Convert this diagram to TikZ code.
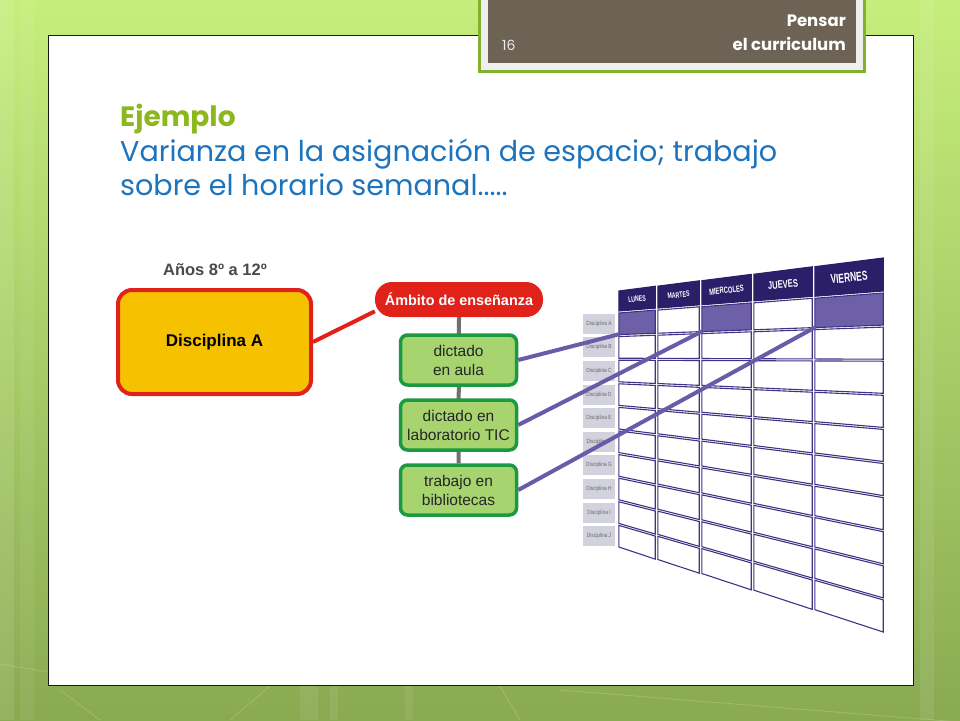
\documentclass[tikz,border=0pt]{standalone}
\usepackage{graphicx}
\usepackage{fontspec}
\setmainfont{Liberation Sans}
\newfontfamily\titlefont{Poppins}
\pgfdeclarelayer{bg}
\pgfdeclarelayer{lines}
\pgfsetlayers{bg,lines,main}
\definecolor{bgtop}{HTML}{C6EE7C}
\definecolor{bgmid}{HTML}{A6CE62}
\definecolor{bgbot}{HTML}{8AAA52}
\definecolor{hdrgreen}{HTML}{84B030}
\definecolor{hdrlight}{HTML}{EFEFEF}
\definecolor{hdrbrown}{HTML}{6D6354}
\definecolor{ejgreen}{HTML}{8CB81D}
\definecolor{tblue}{HTML}{1C74BE}
\definecolor{anosgray}{HTML}{4A4A4A}
\definecolor{yfill}{HTML}{F6C200}
\definecolor{rborder}{HTML}{E0221B}
\definecolor{gfill}{HTML}{A8D470}
\definecolor{gborder}{HTML}{1C9A42}
\definecolor{greyln}{HTML}{6F6F6F}
\definecolor{purpleln}{HTML}{6A5BA8}
\definecolor{navy}{HTML}{2C1F6A}
\definecolor{cellline}{HTML}{3F3483}
\definecolor{shaded}{HTML}{6D60A9}
\definecolor{labfill}{HTML}{D2D2DE}
\definecolor{labtext}{HTML}{666666}
\newcommand\gridrowy[3]{%
  \pgfmathsetmacro\grL{((#2)==0)*290+((#2)>0)*(312+23.6*((#2)-1))}%
  \pgfmathsetmacro\grR{((#2)==0)*257+((#2)>0)*(292+34.1*((#2)-1))}%
  \pgfmathsetmacro#1{\grL+((#3)-618)/266*(\grR-\grL)}%
}
\begin{document}
\begin{tikzpicture}[x=1pt,y=-1pt,
  hdrtxt/.style={text=white,font=\titlefont\bfseries\fontsize{16.5}{19}\selectfont,inner sep=0},
  ybox/.style={draw=rborder,line width=4,fill=yfill,rounded corners=14,minimum width=193,minimum height=104,inner sep=0,font=\bfseries\fontsize{17}{20}\selectfont},
  pill/.style={fill=rborder,rounded corners=17,minimum width=168,minimum height=35,inner sep=0,text=white,font=\bfseries\fontsize{14.4}{17}\selectfont},
  gbox/.style={draw=gborder,line width=3.5,fill=gfill,rounded corners=7,minimum width=116,minimum height=50,inner sep=0,align=center,font=\fontsize{15.5}{19}\selectfont,text=black!85},
  greyline/.style={draw=greyln,line width=4},
  redline/.style={draw=rborder,line width=4},
  purpleline/.style={draw=purpleln,line width=4},
  cellwhite/.style={draw=cellline,line width=1.1,fill=white},
  cellhead/.style={draw=navy,line width=1.1,fill=navy},
  cellshade/.style={draw=cellline,line width=1.1,fill=shaded},
  hdrlab/.style={text=white,inner sep=0,rotate=5.7,font=\bfseries},
  rowlab/.style={fill=labfill,minimum width=32,minimum height=20,inner sep=0,text=labtext,font=\fontsize{6}{7}\selectfont}
]
\useasboundingbox (0,0) rectangle (960,720);
\begin{pgfonlayer}{bg}
  \shade[top color=bgtop,middle color=bgmid,bottom color=bgbot] (0,0) rectangle (960,720);
  \fill[white,opacity=0.10] (0,0) rectangle (14,720);
  \fill[white,opacity=0.06] (20,0) rectangle (34,720);
  \fill[white,opacity=0.08] (920,0) rectangle (934,720);
  \fill[white,opacity=0.07] (300,685) rectangle (318,720);
  \fill[white,opacity=0.07] (330,685) rectangle (338,720);
  \fill[white,opacity=0.07] (405,685) rectangle (413,720);
  \draw[white,opacity=0.18,line width=0.8] (0,664) -- (48,672);
  \draw[white,opacity=0.18,line width=0.8] (560,690) -- (960,722);
  \draw[white,opacity=0.18,line width=0.8] (60,690) -- (100,720);
  \draw[white,opacity=0.18,line width=0.8] (230,720) -- (270,686);
  \draw[white,opacity=0.18,line width=0.8] (500,686) -- (520,720);
  \draw[black!90,line width=1,fill=white] (48,35) rectangle (913,685);
  \draw[draw=hdrgreen,line width=2.5,fill=hdrlight] (479.5,-5) rectangle (864.5,71.5);
  \fill[hdrbrown] (488,-5) rectangle (856,63);
\end{pgfonlayer}
% header texts
\node[hdrtxt,anchor=base east] (pensar) at (846,26) {Pensar};
\node[hdrtxt,anchor=base east] (curric) at (846,50) {el curriculum};
\node[anchor=base west,inner sep=0,text=white!92!black,font=\titlefont\fontsize{14}{16}\selectfont] (pnum) at (502,50) {16};
% title
\node[anchor=base west,inner sep=0,text=ejgreen,font=\titlefont\bfseries\fontsize{28}{32}\selectfont] (ejemplo) at (120,126) {Ejemplo};
\node[anchor=base west,inner sep=0,text=tblue,font=\titlefont\fontsize{28.6}{32}\selectfont] (tline1) at (120,161) {Varianza en la asignación de espacio; trabajo};
\node[anchor=base west,inner sep=0,text=tblue,font=\titlefont\fontsize{28.6}{32}\selectfont] (tline2) at (120,195) {sobre el horario semanal.....};
% grid
\foreach \c/\xa/\xb in {1/618/656,2/657/700,3/701/752,4/753/813,5/814/884}{
  \foreach \b in {0,...,10}{
    \gridrowy\ya{\b}{\xa}
    \gridrowy\yb{\b}{\xb}
    \gridrowy\yc{\b+1}{\xb}
    \gridrowy\yd{\b+1}{\xa}
    \def\cst{cellwhite}
    \ifnum\b=0 \def\cst{cellhead}\fi
    \ifnum\b=1 \ifodd\c \def\cst{cellshade}\fi\fi
    \draw[\cst] (\xa+0.8,\ya+1) -- (\xb-0.8,\yb+1) -- (\xb-0.8,\yc-1) -- (\xa+0.8,\yd-1) -- cycle;
    \ifnum\b=1 \ifodd\c \coordinate (cellA\c) at (\xa+1.5,\yd-1.5);\fi\fi
  }
}
\node[hdrlab,font=\bfseries\fontsize{8}{9}\selectfont] (hlun) at (637,299) {\scalebox{0.65}[1]{LUNES}};
\node[hdrlab,font=\bfseries\fontsize{8}{9}\selectfont] (hmar) at (678.5,295) {\scalebox{0.65}[1]{MARTES}};
\node[hdrlab,font=\bfseries\fontsize{9}{10}\selectfont] (hmie) at (726.5,290.2) {\scalebox{0.65}[1]{MIERCOLES}};
\node[hdrlab,font=\bfseries\fontsize{11}{12}\selectfont] (hjue) at (783,284.6) {\scalebox{0.69}[1]{JUEVES}};
\node[hdrlab,font=\bfseries\fontsize{13}{14}\selectfont] (hvie) at (849,277.5) {\scalebox{0.65}[1]{VIERNES}};
\foreach \b/\l in {1/A,2/B,3/C,4/D,5/E,6/F,7/G,8/H,9/I,10/J}{
  \pgfmathsetmacro\my{312+23.6*(\b-1)+11.8}
  \node[rowlab] (rl\l) at (599,\my) {\scalebox{0.8}[1]{Disciplina \l}};
}
% diagram nodes
\node[inner sep=0,text=anosgray,font=\bfseries\fontsize{16.5}{19}\selectfont] (anos) at (215,270) {Años 8º a 12º};
\node[ybox] (disc) at (214.5,342) {Disciplina A};
\node[pill] (ambito) at (459,299.5) {Ámbito de enseñanza};
\node[gbox] (aula) at (458.5,360) {dictado\\en aula};
\node[gbox] (labtic) at (458.5,425) {dictado en\\laboratorio TIC};
\node[gbox] (bibl) at (458.5,490) {trabajo en\\bibliotecas};
\begin{pgfonlayer}{lines}
  \draw[greyline] (ambito.south) -- (bibl.north);
  \draw[redline] (disc.east) -- (ambito.188);
\end{pgfonlayer}
\draw[purpleline] (aula.east) -- (cellA1);
\draw[purpleline] (labtic.east) -- (cellA3);
\draw[purpleline] (bibl.east) -- (cellA5);
\end{tikzpicture}
\end{document}
